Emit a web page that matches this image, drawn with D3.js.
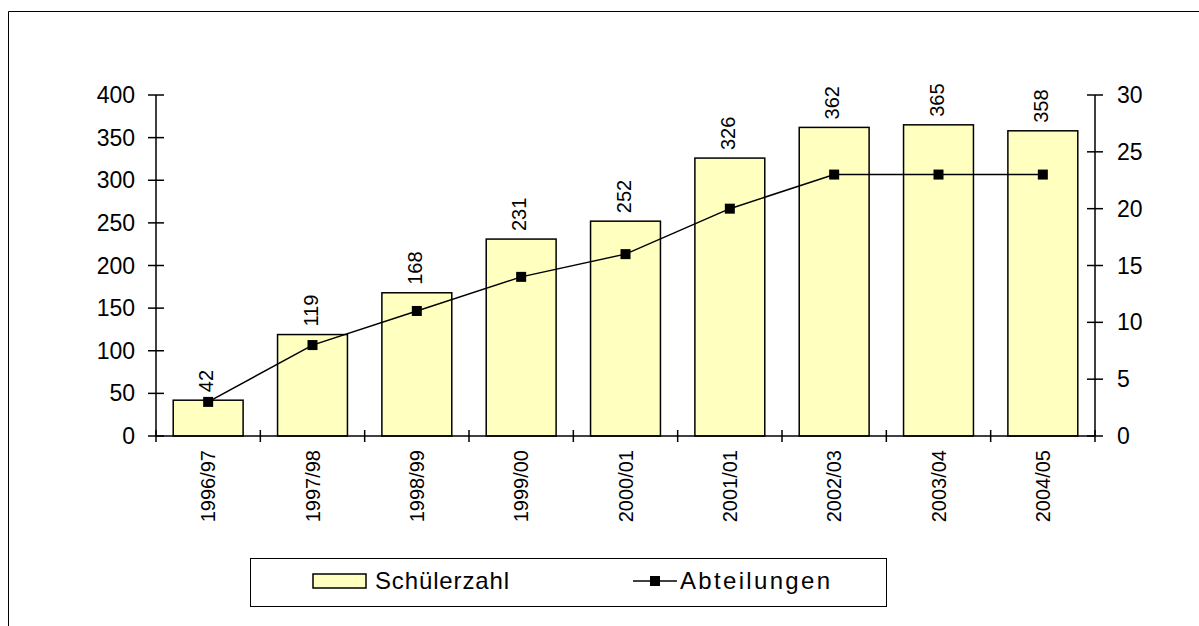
<!DOCTYPE html>
<html lang="de">
<head>
    <meta charset="UTF-8">
    <title>Schülerzahl und Abteilungen</title>
    <script src="https://d3js.org/d3.v7.min.js"></script>
    <style>
        body { margin: 0; background: #fff; }
        svg { display: block; font-family: "Liberation Sans", Arial, sans-serif; }
    </style>
</head>
<body>
<div id="chart"></div>
<script>
    const years = ["1996/97", "1997/98", "1998/99", "1999/00", "2000/01", "2001/01", "2002/03", "2003/04", "2004/05"];
    const schueler = [42, 119, 168, 231, 252, 326, 362, 365, 358];
    const abteilungen = [3, 8, 11, 14, 16, 20, 23, 23, 23];
    const leftTicks = [0, 50, 100, 150, 200, 250, 300, 350, 400];
    const rightTicks = [0, 5, 10, 15, 20, 25, 30];

    (function () {
    const width = 1199, height = 626;
    const pLeft = 156, pRight = 1095, pTop = 95, pBottom = 436;

    const svg = d3.select("#chart").append("svg")
        .attr("width", width)
        .attr("height", height);

    // outer frame (cropped at right and bottom)
    svg.append("path")
        .attr("d", `M8.5,${height}V11.5H${width}`)
        .attr("fill", "none")
        .attr("stroke", "#000")
        .attr("stroke-width", 1);

    const x = d3.scaleBand().domain(years).range([pLeft, pRight]).paddingInner(0.33).paddingOuter(0.165);
    const xEdges = d3.scaleLinear().domain([0, years.length]).range([pLeft, pRight]);
    const y = d3.scaleLinear().domain([0, 400]).range([pBottom, pTop]);
    const y2 = d3.scaleLinear().domain([0, 30]).range([pBottom, pTop]);
    const cx = d => x(d) + x.bandwidth() / 2;

    // bars
    svg.append("g")
        .selectAll("rect")
        .data(schueler)
        .join("rect")
        .attr("x", (d, i) => x(years[i]))
        .attr("y", d => y(d))
        .attr("width", x.bandwidth())
        .attr("height", d => y(0) - y(d))
        .attr("fill", "#ffffc0")
        .attr("stroke", "#000")
        .attr("stroke-width", 1.5);

    // bar value labels
    svg.append("g")
        .selectAll("text")
        .data(schueler)
        .join("text")
        .attr("transform", (d, i) => `translate(${cx(years[i]) + 5},${y(d) - 8}) rotate(-90)`)
        .attr("font-size", 20)
        .text(d => d);

    // left axis
    const gl = svg.append("g");
    gl.append("line").attr("x1", pLeft).attr("x2", pLeft).attr("y1", pTop).attr("y2", pBottom)
        .attr("stroke", "#000").attr("stroke-width", 1.5);
    gl.selectAll(".t").data(leftTicks).join("line")
        .attr("x1", pLeft - 8).attr("x2", pLeft + 8)
        .attr("y1", d => y(d)).attr("y2", d => y(d))
        .attr("stroke", "#000").attr("stroke-width", 1.5);
    gl.selectAll("text").data(leftTicks).join("text")
        .attr("x", pLeft - 21).attr("y", d => y(d) + 8)
        .attr("text-anchor", "end").attr("font-size", 23)
        .text(d => d);

    // right axis
    const gr = svg.append("g");
    gr.append("line").attr("x1", pRight).attr("x2", pRight).attr("y1", pTop).attr("y2", pBottom)
        .attr("stroke", "#000").attr("stroke-width", 1.5);
    gr.selectAll(".t").data(rightTicks).join("line")
        .attr("x1", pRight - 8).attr("x2", pRight + 8)
        .attr("y1", d => y2(d)).attr("y2", d => y2(d))
        .attr("stroke", "#000").attr("stroke-width", 1.5);
    gr.selectAll("text").data(rightTicks).join("text")
        .attr("x", pRight + 22).attr("y", d => y2(d) + 8)
        .attr("font-size", 23)
        .text(d => d);

    // x axis
    const gx = svg.append("g");
    gx.append("line").attr("x1", pLeft).attr("x2", pRight).attr("y1", pBottom).attr("y2", pBottom)
        .attr("stroke", "#000").attr("stroke-width", 1.5);
    gx.selectAll(".t").data(d3.range(years.length + 1)).join("line")
        .attr("x1", d => xEdges(d)).attr("x2", d => xEdges(d))
        .attr("y1", pBottom - 6).attr("y2", pBottom + 6)
        .attr("stroke", "#000").attr("stroke-width", 1.5);
    gx.selectAll("text").data(years).join("text")
        .attr("transform", d => `translate(${cx(d) + 7},${pBottom + 14}) rotate(-90)`)
        .attr("text-anchor", "end").attr("font-size", 20)
        .text(d => d);

    // line series
    const line = d3.line()
        .x((d, i) => cx(years[i]))
        .y(d => y2(d));
    svg.append("path")
        .datum(abteilungen)
        .attr("d", line)
        .attr("fill", "none")
        .attr("stroke", "#000")
        .attr("stroke-width", 1.5);
    svg.append("g")
        .selectAll("rect")
        .data(abteilungen)
        .join("rect")
        .attr("x", (d, i) => cx(years[i]) - 5)
        .attr("y", d => y2(d) - 5)
        .attr("width", 10)
        .attr("height", 10)
        .attr("fill", "#000");

    // legend
    const lg = svg.append("g");
    lg.append("rect").attr("x", 250.5).attr("y", 558.5).attr("width", 636).attr("height", 48)
        .attr("fill", "#fff").attr("stroke", "#000").attr("stroke-width", 1);
    lg.append("rect").attr("x", 313).attr("y", 574).attr("width", 53).attr("height", 14)
        .attr("fill", "#ffffc0").attr("stroke", "#000").attr("stroke-width", 1.5);
    lg.append("text").attr("x", 375).attr("y", 589).attr("font-size", 24)
        .attr("textLength", 134).attr("lengthAdjust", "spacing").text("Schülerzahl");
    lg.append("line").attr("x1", 633).attr("x2", 677).attr("y1", 581).attr("y2", 581)
        .attr("stroke", "#000").attr("stroke-width", 1.5);
    lg.append("rect").attr("x", 650).attr("y", 576).attr("width", 10).attr("height", 10).attr("fill", "#000");
    lg.append("text").attr("x", 680).attr("y", 589).attr("font-size", 24)
        .attr("textLength", 150).attr("lengthAdjust", "spacing").text("Abteilungen");
    })();
</script>
</body>
</html>
